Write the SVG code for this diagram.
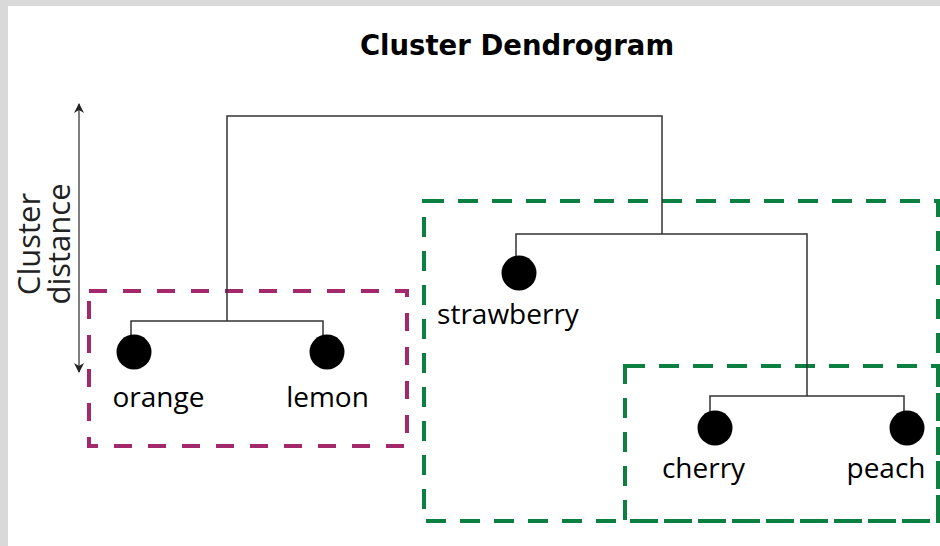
<svg xmlns="http://www.w3.org/2000/svg" width="940" height="546" viewBox="0 0 940 546">
<style>
.lbl{font-family:"Open Sans","Liberation Sans",sans-serif;font-size:28px;fill:#000;text-anchor:middle}
.leaf{fill:#000}
.link{fill:none;stroke:#333;stroke-width:1.5}
.c-purple{fill:none;stroke:#a3286c;stroke-width:4;stroke-dasharray:18 16}
.c-green{fill:none;stroke:#0b8040;stroke-width:4;stroke-dasharray:20 14}
</style>
<defs>
<marker id="ah" viewBox="0 0 10 10" refX="9" refY="5" markerWidth="10" markerHeight="10" markerUnits="userSpaceOnUse" orient="auto-start-reverse">
<path d="M0,0 L10,5 L0,10 L3,5 Z" fill="#222"/>
</marker>
</defs>
<rect width="940" height="546" fill="#d9d9d9"/>
<rect x="8" y="6" width="932" height="540" fill="#fff"/>
<text x="517" y="55" font-family="DejaVu Sans" font-weight="bold" font-size="27.5" text-anchor="middle">Cluster Dendrogram</text>
<g id="axis">
<line x1="79" y1="104" x2="79" y2="372" stroke="#555" stroke-width="1.5" marker-start="url(#ah)" marker-end="url(#ah)"/>
<text transform="translate(40,244) rotate(-90)" font-family="Open Sans" font-size="31" text-anchor="middle" fill="#222">Cluster</text>
<text transform="translate(70,244) rotate(-90)" font-family="Open Sans" font-size="31" text-anchor="middle" fill="#222">distance</text>
</g>
<g id="clusters">
<rect id="cluster-citrus" class="c-purple" x="89" y="291" width="318" height="155"/>
<rect id="cluster-berries" class="c-green" x="424" y="201" width="514" height="320"/>
<rect id="cluster-stone" class="c-green" x="625" y="366" width="313" height="155"/>
</g>
<g id="connectors">
<path class="link" d="M227,321 V116 H662 V234"/>
<path class="link" d="M131,337 V321 H323 V337"/>
<path class="link" d="M516,257 V234 H807 V396"/>
<path class="link" d="M710,413 V396 H904 V413"/>
</g>
<g id="orange">
<circle class="leaf" cx="134" cy="352" r="17.5"/>
<text class="lbl" x="158.5" y="407">orange</text>
</g>
<g id="lemon">
<circle class="leaf" cx="327" cy="352" r="17.5"/>
<text class="lbl" x="327.5" y="407">lemon</text>
</g>
<g id="strawberry">
<circle class="leaf" cx="519" cy="273" r="17.5"/>
<text class="lbl" x="508" y="324">strawberry</text>
</g>
<g id="cherry">
<circle class="leaf" cx="715" cy="428" r="17.5"/>
<text class="lbl" x="703.5" y="478">cherry</text>
</g>
<g id="peach">
<circle class="leaf" cx="907" cy="428" r="17.5"/>
<text class="lbl" x="886" y="478">peach</text>
</g>
</svg>
